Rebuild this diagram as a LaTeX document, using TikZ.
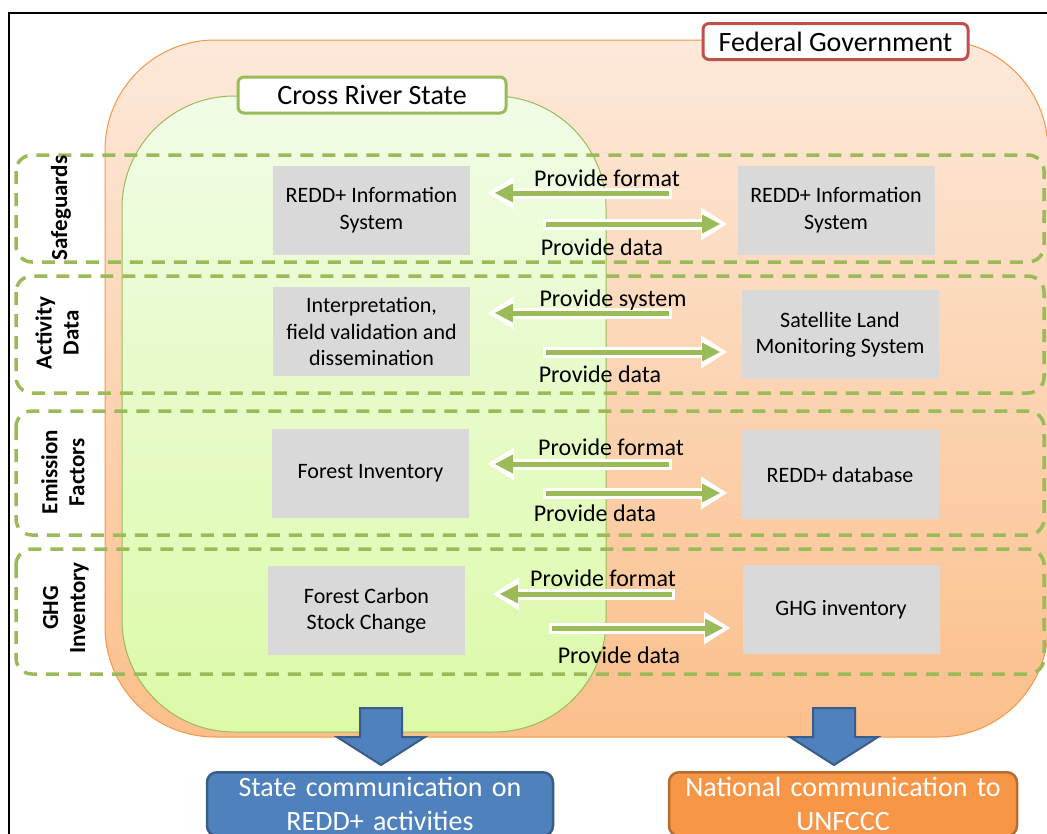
\documentclass[tikz,border=0pt]{standalone}
\usepackage{fontspec}
\setmainfont{Carlito}
\usetikzlibrary{arrows.meta}

\definecolor{fedline}{HTML}{F79646}
\definecolor{fedtop}{HTML}{FDE9DA}
\definecolor{fedbottom}{HTML}{FBBF8B}
\definecolor{statetop}{HTML}{F1FCE6}
\definecolor{statebottom}{HTML}{DCFAA8}
\definecolor{greenline}{HTML}{9BBB59}
\definecolor{redline}{HTML}{C0504D}
\definecolor{boxgray}{HTML}{D9D9D9}
\definecolor{commblue}{HTML}{4F81BD}
\definecolor{commblueline}{HTML}{385D8A}
\definecolor{commorange}{HTML}{F79646}
\definecolor{commorangeline}{HTML}{B66D31}

\tikzset{
  infobox/.style={fill=boxgray, minimum width=197pt, minimum height=89pt, align=center,
    font=\fontsize{22}{26.5}\selectfont, inner sep=2pt},
  sidelabel/.style={rotate=90, align=center, font=\bfseries\fontsize{23}{27}\selectfont},
  flowlabel/.style={font=\fontsize{24}{26}\selectfont, inner sep=0pt},
  tier/.style={draw=greenline, line width=3.5pt, dash pattern=on 13pt off 9pt, rounded corners=16pt},
  backarrow/.style={white, line width=11pt, -{Triangle[length=26pt, width=33pt, line width=0pt]}},
  frontarrow/.style={greenline, line width=5pt, shorten >=7pt, shorten <=3pt,
    -{Triangle[length=18pt, width=19pt, line width=0pt]}},
  levellabel/.style={fill=white, line width=3pt, rounded corners=6pt,
    font=\fontsize{28}{30}\selectfont, inner sep=0pt, minimum height=36pt},
  downarrow/.style={fill=commblue, draw=commblueline, line width=2pt},
  commbox/.style={text=white, line width=2.5pt, rounded corners=10pt, align=center,
    font=\fontsize{28}{34}\selectfont, anchor=north, inner xsep=4pt, inner ysep=5pt},
}

\begin{document}
\begin{tikzpicture}[x=1pt, y=-1pt]
    \useasboundingbox (0,0) rectangle (1047,833);
    \clip (0,0) rectangle (1047,833);
    \draw[line width=2pt] (8.5,850) -- (8.5,12.5) -- (1060,12.5);

    % government levels
    \shade[top color=fedtop, bottom color=fedbottom, draw=fedline, line width=1pt,
      rounded corners=110pt] (105,40) rectangle (1048,737);
    \shade[top color=statetop, bottom color=statebottom, draw=greenline, line width=1pt,
      rounded corners=112pt] (122,96) rectangle (606,732);

    % tiers
    \draw[tier] (16,155) rectangle (1044,262);
    \draw[tier] (16,276) rectangle (1044,393);
    \draw[tier] (16,411) rectangle (1044,535);
    \draw[tier] (16,549) rectangle (1044,674);

    \node[sidelabel] (safe) at (61,208) {Safeguards};
    \node[sidelabel] (act) at (57,333) {Activity\\Data};
    \node[sidelabel] (emis) at (63,472) {Emission\\Factors};
    \node[sidelabel] (ghg) at (66,608) {GHG\\Inventory};

    \node[infobox] (sgState) at (371.5,210) {REDD+ Information\\System};
    \node[infobox] (sgFed) at (836,210) {REDD+ Information\\System};
    \node[infobox] (adState) at (371.5,331.5) {Interpretation,\\field validation and\\dissemination};
    \node[infobox] (adFed) at (840,334.5) {Satellite Land\\Monitoring System};
    \node[infobox] (efState) at (370.5,473.5) {Forest Inventory};
    \node[infobox] (efFed) at (840,474.5) {REDD+ database};
    \node[infobox] (ghgState) at (366.5,610.5) {Forest Carbon\\Stock Change};
    \node[infobox] (ghgFed) at (841,609.5) {GHG inventory};

    % flows
    \coordinate (sgfmt1) at (672,193);
    \coordinate (sgfmt2) at (488,193);
    \coordinate (sgdat1) at (543,224);
    \coordinate (sgdat2) at (727,224);
    \coordinate (adsys1) at (672,313);
    \coordinate (adsys2) at (488,313);
    \coordinate (addat1) at (543,352);
    \coordinate (addat2) at (727,352);
    \coordinate (effmt1) at (672,464);
    \coordinate (effmt2) at (488,464);
    \coordinate (efdat1) at (543,493);
    \coordinate (efdat2) at (727,493);
    \coordinate (ghgfmt1) at (675,594);
    \coordinate (ghgfmt2) at (493,594);
    \coordinate (ghgdat1) at (549,628);
    \coordinate (ghgdat2) at (730,628);
    \draw[-]
    (sgfmt1) edge[backarrow] (sgfmt2)
    (sgdat1) edge[backarrow] (sgdat2)
    (adsys1) edge[backarrow] (adsys2)
    (addat1) edge[backarrow] (addat2)
    (effmt1) edge[backarrow] (effmt2)
    (efdat1) edge[backarrow] (efdat2)
    (ghgfmt1) edge[backarrow] (ghgfmt2)
    (ghgdat1) edge[backarrow] (ghgdat2);
    \draw[-]
    (sgfmt1) edge[frontarrow] (sgfmt2)
    (sgdat1) edge[frontarrow] (sgdat2)
    (adsys1) edge[frontarrow] (adsys2)
    (addat1) edge[frontarrow] (addat2)
    (effmt1) edge[frontarrow] (effmt2)
    (efdat1) edge[frontarrow] (efdat2)
    (ghgfmt1) edge[frontarrow] (ghgfmt2)
    (ghgdat1) edge[frontarrow] (ghgdat2);

    \node[flowlabel] (sgfmt) at (607,178) {Provide format};
    \node[flowlabel] (sgdat) at (602,247) {Provide data};
    \node[flowlabel] (adsys) at (613,300) {Provide system};
    \node[flowlabel] (addat) at (600,374) {Provide data};
    \node[flowlabel] (effmt) at (611,447) {Provide format};
    \node[flowlabel] (efdat) at (595,513) {Provide data};
    \node[flowlabel] (ghgfmt) at (603,578) {Provide format};
    \node[flowlabel] (ghgdat) at (619,655) {Provide data};

    \node[levellabel, draw=greenline, minimum width=268pt] (crs) at (372,95) {Cross River State};
    \node[levellabel, draw=redline, minimum width=265pt] (fed) at (835.5,41.5) {Federal Government};

    % outputs
    \draw[downarrow] (360,708) -- (402,708) -- (402,737) -- (425,737) -- (381,765)
      -- (337,737) -- (360,737) -- cycle;
    \draw[downarrow] (813,708) -- (855,708) -- (855,737) -- (878,737) -- (834,765)
      -- (790,737) -- (813,737) -- cycle;
    \node[commbox, fill=commblue, draw=commblueline, text width=338pt] (statecomm) at (380,771)
      {State communication on\\REDD+ activities};
    \node[commbox, fill=commorange, draw=commorangeline, text width=340pt] (natcomm) at (843,771)
      {National communication to\\UNFCCC};
\end{tikzpicture}
\end{document}
